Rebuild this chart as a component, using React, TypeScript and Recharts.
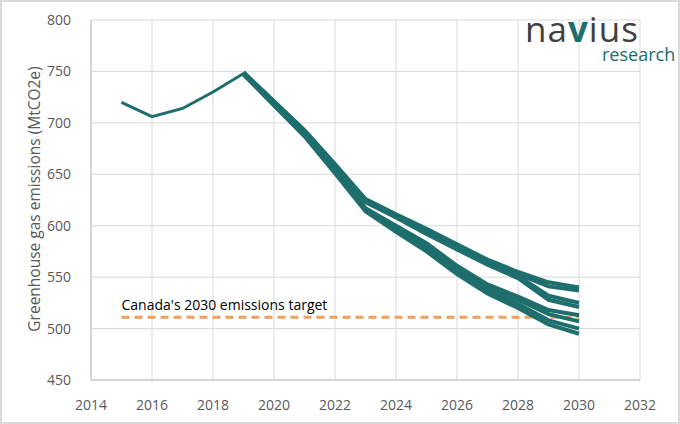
import React from 'react';
import { LineChart, Line, XAxis, YAxis, CartesianGrid, ReferenceLine } from 'recharts';

// historical emissions
const histYears = [2015, 2016, 2017, 2018, 2019];
const histValues = [720, 706, 714, 730, 748];

// scenario projections, 2019 to 2030
const scenarioYears = [2019, 2020, 2021, 2022, 2023, 2024, 2025, 2026, 2027, 2028, 2029, 2030];
const scenarioA1 = [749, 721, 693, 660, 626, 611, 597, 582, 567, 555, 545, 540];
const scenarioA2 = [749, 720, 692, 659, 625, 610, 595, 580, 565, 553, 541, 537];
const scenarioB1 = [749, 720, 692, 658, 624, 609, 594, 579, 564, 551, 532, 525];
const scenarioB2 = [748, 719, 691, 657, 623, 608, 592, 577, 562, 549, 528, 521];
const scenarioC1 = [748, 718, 690, 654, 617, 600, 583, 561, 543, 531, 518, 513];
const scenarioC2 = [748, 718, 689, 653, 616, 598, 580, 558, 540, 528, 514, 507];
const scenarioD1 = [748, 717, 688, 652, 615, 596, 578, 556, 537, 524, 508, 500];
const scenarioD2 = [747, 717, 687, 651, 614, 594, 575, 553, 534, 520, 504, 495];

const targetYears = [2015, 2030];
const targetValue = 511;
const targetLabel = "Canada's 2030 emissions target";

const xTicks = [2014, 2016, 2018, 2020, 2022, 2024, 2026, 2028, 2030, 2032];
const yTicks = [450, 500, 550, 600, 650, 700, 750, 800];

const scenarios: Record<string, number[]> = {
  a1: scenarioA1, a2: scenarioA2, b1: scenarioB1, b2: scenarioB2,
  c1: scenarioC1, c2: scenarioC2, d1: scenarioD1, d2: scenarioD2,
};

const allYears = Array.from(new Set([...histYears, ...scenarioYears])).sort();
const chartData = allYears.map(year => {
  const row: any = { year };
  const hi = histYears.indexOf(year);
  if (hi >= 0) row.hist = histValues[hi];
  const si = scenarioYears.indexOf(year);
  if (si >= 0) Object.keys(scenarios).forEach(k => { row[k] = scenarios[k][si]; });
  return row;
});

const TEAL = '#1d6e6c';
const GREY = '#595959';
const FONT = '"Open Sans", "Noto Sans", sans-serif';

export default function App() {
  return (
    <div style={{ position: 'absolute', left: 0, top: 0, width: 680, height: 424, background: '#fff', boxSizing: 'border-box', border: '2px solid #d9d9d9', fontFamily: FONT }}>
      <div style={{ position: 'absolute', left: -2, top: -2 }}>
        <LineChart width={680} height={424} data={chartData} margin={{ top: 20, right: 40, bottom: 14, left: 0 }}>
          <CartesianGrid stroke="#d9d9d9" strokeWidth={1} />
          <XAxis
            dataKey="year"
            type="number"
            domain={[2014, 2032]}
            ticks={xTicks}
            height={30}
            tickLine={false}
            axisLine={{ stroke: '#bfbfbf' }}
            tickMargin={14}
            tick={{ fill: GREY, fontSize: 14, fontFamily: FONT }}
          />
          <YAxis
            type="number"
            domain={[450, 800]}
            ticks={yTicks}
            width={91}
            tickLine={false}
            axisLine={{ stroke: '#bfbfbf' }}
            tickMargin={14}
            tick={{ fill: GREY, fontSize: 14, fontFamily: FONT }}
            label={() => (
              <text x={36} y={199} transform="rotate(-90 36 199)" textAnchor="middle" dominantBaseline="middle" fill={GREY} fontSize={15.5} fontFamily={FONT}>
                Greenhouse gas emissions (MtCO2e)
              </text>
            )}
          />
          <ReferenceLine
            segment={[{ x: targetYears[0], y: targetValue }, { x: targetYears[1], y: targetValue }]}
            stroke="#f0a05a"
            strokeWidth={3}
            strokeDasharray="8 5"
            label={(props: any) => (
              <text x={props.viewBox.x} y={props.viewBox.y - 7} fill="#000" fontSize={14} fontFamily={FONT}>
                {targetLabel}
              </text>
            )}
          />
          <Line dataKey="hist" stroke={TEAL} strokeWidth={3} dot={false} isAnimationActive={false} />
          {Object.keys(scenarios).map(k => (
            <Line key={k} dataKey={k} stroke={TEAL} strokeWidth={4} dot={false} isAnimationActive={false} />
          ))}
        </LineChart>
      </div>
      <div style={{ position: 'absolute', left: 523, top: 12, fontSize: 35, color: '#404040', letterSpacing: 1, lineHeight: '30px' }}>
        na<span style={{ color: TEAL, fontWeight: 700 }}>v</span>ius
      </div>
      <div style={{ position: 'absolute', left: 600, top: 44, fontSize: 18, color: TEAL, lineHeight: '16px' }}>research</div>
    </div>
  );
}
